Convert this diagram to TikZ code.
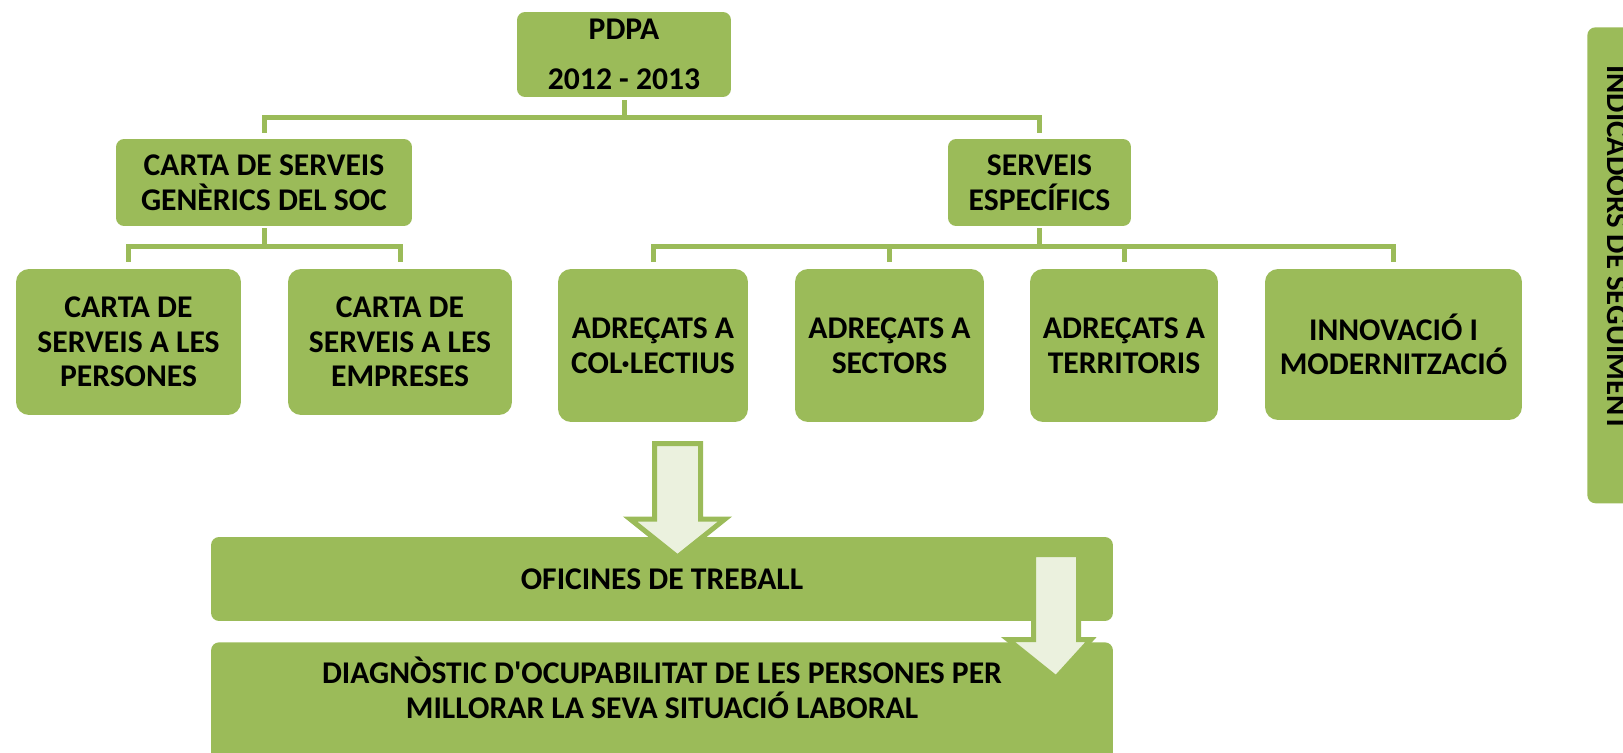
\documentclass[tikz,border=0pt]{standalone}
\usepackage{fontspec}
\setmainfont{Carlito}
\usetikzlibrary{positioning}
\definecolor{boxgreen}{HTML}{9BBB59}
\definecolor{arrowfill}{HTML}{EBF1DE}
\tikzset{
  box/.style={fill=boxgreen, rounded corners=0.16cm, inner sep=0pt, align=center,
    font=\fontsize{18}{19.7}\selectfont\bfseries},
  bigbox/.style={box, rounded corners=0.26cm},
  label text/.style={align=center, inner sep=0pt, font=\fontsize{18}{19.7}\selectfont\bfseries},
  link/.style={draw=boxgreen, line width=0.1cm},
  blockarrow/.style={draw=boxgreen, fill=arrowfill, line width=0.1cm}
}

\begin{document}
\begin{tikzpicture}[x=0.02cm, y=-0.02cm]
\useasboundingbox (0,0) rectangle (1623,753);

% top
\node[box, minimum width=4.28cm, minimum height=1.7cm] (pdpa) at (624,54.5) {PDPA\\[0.3cm]2012 - 2013};

% second level
\node[box, minimum width=5.92cm, minimum height=1.74cm] (generic) at (264,182.5) {CARTA DE SERVEIS\\GENÈRICS DEL SOC};
\node[box, minimum width=3.66cm, minimum height=1.74cm] (specific) at (1039.5,182.5) {SERVEIS\\ESPECÍFICS};

% third level
\node[bigbox, minimum width=4.5cm, minimum height=2.92cm] (persones) at (128.5,342) {CARTA DE\\SERVEIS A LES\\PERSONES};
\node[bigbox, minimum width=4.48cm, minimum height=2.92cm] (empreses) at (400,342) {CARTA DE\\SERVEIS A LES\\EMPRESES};
\node[bigbox, minimum width=3.8cm, minimum height=3.06cm] (collectius) at (653,345.5) {ADREÇATS A\\COL·LECTIUS};
\node[bigbox, minimum width=3.78cm, minimum height=3.06cm] (sectors) at (889.5,345.5) {ADREÇATS A\\SECTORS};
\node[bigbox, minimum width=3.76cm, minimum height=3.06cm] (territoris) at (1124,345.5) {ADREÇATS A\\TERRITORIS};
\node[bigbox, minimum width=5.14cm, minimum height=3.02cm] (innovacio) at (1393.5,344.5) {INNOVACIÓ I\\MODERNITZACIÓ};

% bottom
\node[box, minimum width=18.04cm, minimum height=1.68cm] (oficines) at (662,579) {OFICINES DE TREBALL};
\node[box, minimum width=18.04cm, minimum height=2.5cm, anchor=north] (diagnostic) at (662,642) {};
\node[label text] (diagtext) at (662,688) {DIAGNÒSTIC D\textquotesingle OCUPABILITAT DE LES PERSONES PER\\MILLORAR LA SEVA SITUACIÓ LABORAL};

% side bar
\node[box, minimum width=1.46cm, minimum height=9.52cm, anchor=north west] (indicadors) at (1587,27) {};
\node[label text, font=\fontsize{17.5}{19}\selectfont\bfseries, rotate=-90, anchor=base] (indtext) at (1607,248) {INDICADORS DE SEGUIMENT};

% connectors
\coordinate (bus0) at (624,118);
\draw[link] ([yshift=-0.06cm]pdpa.south) -- (bus0);
\draw[link] ([yshift=0.12cm]generic.north) |- (bus0) -| ([yshift=0.12cm]specific.north);

\coordinate (bus1) at (264,247);
\draw[link] ([yshift=-0.04cm]generic.south) -- (bus1);
\draw[link] ([yshift=0.14cm]persones.north) |- (bus1) -| ([yshift=0.14cm]empreses.north);

\coordinate (bus2) at (1039.5,247);
\draw[link] ([yshift=-0.04cm]specific.south) -- (bus2);
\draw[link] ([yshift=0.14cm]collectius.north) |- (bus2) -| ([yshift=0.14cm]innovacio.north);
\foreach \n in {sectors,territoris}
  \draw[link] ([yshift=0.14cm]\n.north) -- (\n.north |- bus2);

% block arrows
\draw[blockarrow] (654.5,443.5) -- (700.5,443.5) -- (700.5,519) -- (725,519) -- (677.5,557) -- (630,519) -- (654.5,519) -- cycle;
\draw[blockarrow] (1033.5,554.5) -- (1078.5,554.5) -- (1078.5,639.5) -- (1091,639.5) -- (1056,678) -- (1008,639.5) -- (1033.5,639.5) -- cycle;
\end{tikzpicture}
\end{document}
